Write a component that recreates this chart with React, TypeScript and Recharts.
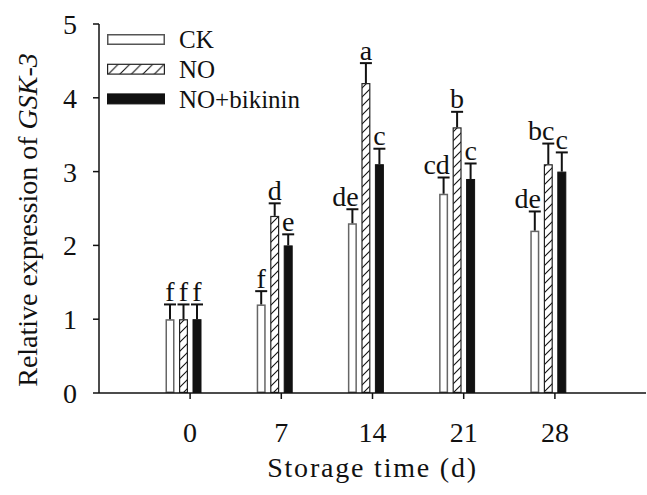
import React from "react";
import { BarChart, Bar, XAxis, YAxis, Label } from "recharts";

const days = ["0", "7", "14", "21", "28"];
const ckValues = [1.0, 1.2, 2.3, 2.7, 2.2];
const noValues = [1.0, 2.4, 4.2, 3.6, 3.1];
const nobValues = [1.0, 2.0, 3.1, 2.9, 3.0];
const ckErr = [0.2, 0.18, 0.19, 0.22, 0.26];
const noErr = [0.2, 0.17, 0.27, 0.21, 0.28];
const nobErr = [0.2, 0.15, 0.21, 0.21, 0.26];
const ckSig = ["f", "f", "de", "cd", "de"];
const noSig = ["f", "d", "a", "b", "bc"];
const nobSig = ["f", "e", "c", "c", "c"];
const seriesNames = ["CK", "NO", "NO+bikinin"];
const yTicks = [0, 1, 2, 3, 4, 5];

const data = days.map((d, i) => ({
  day: d,
  ck: ckValues[i],
  no: noValues[i],
  nob: nobValues[i],
  ckErr: ckErr[i],
  noErr: noErr[i],
  nobErr: nobErr[i],
  ckSig: ckSig[i],
  noSig: noSig[i],
  nobSig: nobSig[i],
}));

const FONT = "Liberation Serif, Times New Roman, serif";
const INK = "#111";

type Style = { fill: string; stroke: string; sw: number };
const styles: Record<string, Style> = {
  ck: { fill: "#fff", stroke: "#666", sw: 1.5 },
  no: { fill: "url(#hatchBar)", stroke: "#222", sw: 1.2 },
  nob: { fill: "#111", stroke: "#111", sw: 1 },
};

const makeShape = (key: string) => (props: any) => {
  const { x, y, width, height, payload } = props;
  const st = styles[key];
  const v = payload[key];
  const err = payload[key + "Err"];
  const sig: string = payload[key + "Sig"];
  const ppu = v ? height / v : 0;
  const cx = x + width / 2;
  const capY = y - err * ppu;
  const dx = -(sig.length - 1) * 7;
  return (
    <g>
      <rect
        x={x + st.sw / 2}
        y={y + st.sw / 2}
        width={Math.max(width - st.sw, 0)}
        height={Math.max(height - st.sw, 0)}
        fill={st.fill}
        stroke={st.stroke}
        strokeWidth={st.sw}
      />
      <line x1={cx} y1={y} x2={cx} y2={capY} stroke={INK} strokeWidth={2} />
      <line x1={cx - 6} y1={capY} x2={cx + 6} y2={capY} stroke={INK} strokeWidth={2} />
      <text
        x={cx + dx}
        y={capY - 3.5}
        textAnchor="middle"
        style={{ fontFamily: FONT, fontSize: 28, fill: INK }}
      >
        {sig}
      </text>
    </g>
  );
};

const legendBoxes: Style[] = [
  { fill: "#fff", stroke: "#555", sw: 1.5 },
  { fill: "url(#hatchLegend)", stroke: "#222", sw: 1.2 },
  { fill: "#111", stroke: "#111", sw: 1 },
];

export default function App() {
  return (
    <div
      style={{
        position: "absolute",
        left: 0,
        top: 0,
        width: 647,
        height: 495,
        background: "#fff",
        fontFamily: FONT,
      }}
    >
      <BarChart
        width={647}
        height={495}
        data={data}
        margin={{ top: 24, right: 1, bottom: 0, left: 0 }}
        barSize={9}
        barGap={4.5}
      >
        <defs>
          <pattern id="hatchBar" patternUnits="userSpaceOnUse" width={9} height={9}>
            <rect width={9} height={9} fill="#fff" />
            <path d="M0,9 L9,0 M-2,2 L2,-2 M7,11 L11,7" stroke="#111" strokeWidth={1.1} />
          </pattern>
          <pattern id="hatchLegend" patternUnits="userSpaceOnUse" width={11.5} height={11.5}>
            <rect width={11.5} height={11.5} fill="#fff" />
            <path d="M0,11.5 L11.5,0 M-2,2 L2,-2 M9.5,13.5 L13.5,9.5" stroke="#111" strokeWidth={1.1} />
          </pattern>
        </defs>
        <XAxis xAxisId="bars" dataKey="day" hide height={0} padding={{ left: 38.5, right: 52.5 }} />
        <XAxis
          xAxisId="ticks"
          dataKey="day"
          padding={{ left: 45.5, right: 45.5 }}
          height={102}
          tickSize={6}
          tickMargin={23}
          interval={0}
          axisLine={{ stroke: INK, strokeWidth: 1.5 }}
          tickLine={{ stroke: INK, strokeWidth: 1.5 }}
          tick={{ fontFamily: FONT, fontSize: 28, fill: INK }}
        >
          <Label
            content={(p: any) => {
              const vb = p.viewBox || {};
              return (
                <text
                  x={vb.x + vb.width / 2}
                  y={vb.y + 84}
                  textAnchor="middle"
                  style={{ fontFamily: FONT, fontSize: 28, fill: INK, letterSpacing: 1.8 }}
                >
                  Storage time (d)
                </text>
              );
            }}
          />
        </XAxis>
        <XAxis
          xAxisId="top"
          dataKey="day"
          orientation="top"
          height={0}
          tick={false}
          tickLine={false}
          axisLine={{ stroke: INK, strokeWidth: 1.5 }}
        />
        <YAxis
          domain={[0, 5]}
          ticks={yTicks}
          width={99}
          tickSize={6}
          tickMargin={16}
          interval={0}
          axisLine={{ stroke: INK, strokeWidth: 1.5 }}
          tickLine={{ stroke: INK, strokeWidth: 1.5 }}
          tick={{ fontFamily: FONT, fontSize: 28, fill: INK }}
        >
          <Label
            content={() => (
              <text
                x={37}
                y={220}
                transform="rotate(-90, 37, 220)"
                textAnchor="middle"
                style={{ fontFamily: FONT, fontSize: 28, fill: INK }}
              >
                Relative expression of <tspan style={{ fontStyle: "italic" }}>GSK-3</tspan>
              </text>
            )}
          />
        </YAxis>
        <YAxis
          yAxisId="right"
          orientation="right"
          domain={[0, 5]}
          width={0}
          tick={false}
          tickLine={false}
          axisLine={{ stroke: INK, strokeWidth: 1.5 }}
        />
        <Bar dataKey="ck" name={seriesNames[0]} xAxisId="bars" isAnimationActive={false} shape={makeShape("ck")} />
        <Bar dataKey="no" name={seriesNames[1]} xAxisId="bars" isAnimationActive={false} shape={makeShape("no")} />
        <Bar dataKey="nob" name={seriesNames[2]} xAxisId="bars" isAnimationActive={false} shape={makeShape("nob")} />
      </BarChart>
      <svg width={220} height={90} style={{ position: "absolute", left: 100, top: 25 }}>
        {seriesNames.map((name, i) => {
          const st = legendBoxes[i];
          const top = 9 + i * 29.7;
          return (
            <g key={name}>
              <rect
                x={7 + st.sw / 2}
                y={top + st.sw / 2}
                width={58 - st.sw}
                height={11 - st.sw}
                fill={st.fill}
                stroke={st.stroke}
                strokeWidth={st.sw}
              />
              <text
                x={79}
                y={top + 5.5}
                dy="0.35em"
                style={{ fontFamily: FONT, fontSize: 25, fill: INK }}
              >
                {name}
              </text>
            </g>
          );
        })}
      </svg>
    </div>
  );
}
